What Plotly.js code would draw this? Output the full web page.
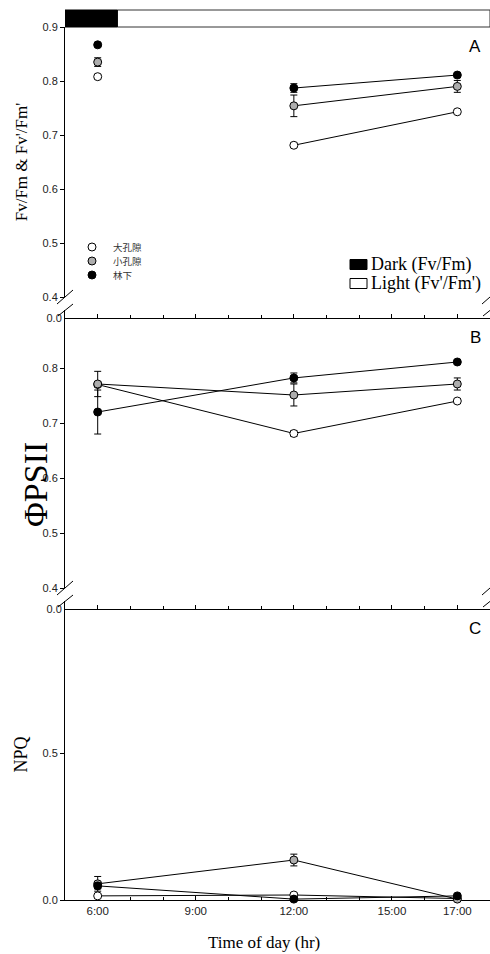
<!DOCTYPE html>
<html>
<head>
<meta charset="utf-8">
<script src="https://cdn.plot.ly/plotly-3.0.1.min.js"></script>
<style>
  html, body { margin: 0; padding: 0; background: #fff; }
  #chart { width: 490px; height: 954px; }
</style>
</head>
<body>
<div id="chart"></div>
<script>
// ---- data ----
const groups = ['大孔隙', '小孔隙', '林下'];
const darkHours = [6];
const lightHours = [12, 17];
const allHours = [6, 12, 17];
const timeTickVals = [6, 9, 12, 15, 17];
const timeTickText = ['6:00', '9:00', '12:00', '15:00', '17:00'];
const hourTicks = [5, 6, 7, 8, 9, 10, 11, 12, 13, 14, 15, 16, 17, 18];
const sunrise = 6.6;

// Fv/Fm (pre-dawn, dark adapted)
const fvfmLarge = [0.808];
const fvfmSmall = [0.835];
const fvfmUnder = [0.867];
const fvfmLargeErr = [0.004];
const fvfmSmallErr = [0.008];
const fvfmUnderErr = [0.003];

// Fv'/Fm' (light adapted)
const fvfmpLarge = [0.681, 0.743];
const fvfmpSmall = [0.754, 0.790];
const fvfmpUnder = [0.787, 0.811];
const fvfmpLargeErr = [0.004, 0.003];
const fvfmpSmallErr = [0.020, 0.011];
const fvfmpUnderErr = [0.008, 0.003];

// ΦPSII
const phiLarge = [0.770, 0.681, 0.740];
const phiSmall = [0.771, 0.751, 0.771];
const phiUnder = [0.720, 0.782, 0.811];
const phiLargeErr = [0.004, 0.005, 0.003];
const phiSmallErr = [0.023, 0.020, 0.011];
const phiUnderErr = [0.040, 0.009, 0.003];

// NPQ
const npqLarge = [0.014, 0.017, 0.005];
const npqSmall = [0.055, 0.136, 0.003];
const npqUnder = [0.048, 0.003, 0.014];
const npqLargeErr = [0.004, 0.006, 0.002];
const npqSmallErr = [0.025, 0.020, 0.002];
const npqUnderErr = [0.010, 0.002, 0.003];

// ---- styling / geometry ----
const W = 490, H = 954, ML = 65, MR = 0, MT = 10, MB = 54;
const PW = W - ML - MR, PH = H - MT - MB;
const px = x => (x - ML) / PW;
const py = y => (H - MB - y) / PH;

const FILL = {'大孔隙': '#ffffff', '小孔隙': '#adadad', '林下': '#000000'};
const SANS = 'Liberation Sans, Arial, sans-serif';
const SERIF = 'Liberation Serif, Times New Roman, serif';
const CJK = 'Noto Sans CJK SC, sans-serif';

function series(xa, ya, x, y, err, name, mode) {
  return {
    type: 'scatter', mode: mode, name: name, x: x, y: y,
    xaxis: xa, yaxis: ya, showlegend: false, cliponaxis: false,
    line: {color: '#000', width: 1},
    marker: {size: 8, color: FILL[name], line: {color: '#000', width: 1}},
    error_y: {type: 'data', array: err, visible: true, color: '#000', thickness: 1, width: 3.5}
  };
}

// empty trace that registers the short "0.0" axis segment below each break
function baseSegment(xa, ya) {
  return {type: 'scatter', mode: 'markers', x: [], y: [], xaxis: xa, yaxis: ya,
          showlegend: false, hoverinfo: 'skip'};
}

const traces = [
  baseSegment('x', 'y2'),
  baseSegment('x2', 'y4'),
  // panel A
  series('x', 'y', darkHours, fvfmLarge, fvfmLargeErr, groups[0], 'markers'),
  series('x', 'y', lightHours, fvfmpLarge, fvfmpLargeErr, groups[0], 'lines+markers'),
  series('x', 'y', darkHours, fvfmSmall, fvfmSmallErr, groups[1], 'markers'),
  series('x', 'y', lightHours, fvfmpSmall, fvfmpSmallErr, groups[1], 'lines+markers'),
  series('x', 'y', darkHours, fvfmUnder, fvfmUnderErr, groups[2], 'markers'),
  series('x', 'y', lightHours, fvfmpUnder, fvfmpUnderErr, groups[2], 'lines+markers'),
  // panel B
  series('x2', 'y3', allHours, phiLarge, phiLargeErr, groups[0], 'lines+markers'),
  series('x2', 'y3', allHours, phiSmall, phiSmallErr, groups[1], 'lines+markers'),
  series('x2', 'y3', allHours, phiUnder, phiUnderErr, groups[2], 'lines+markers'),
  // panel C
  series('x3', 'y5', allHours, npqLarge, npqLargeErr, groups[0], 'lines+markers'),
  series('x3', 'y5', allHours, npqSmall, npqSmallErr, groups[1], 'lines+markers'),
  series('x3', 'y5', allHours, npqUnder, npqUnderErr, groups[2], 'lines+markers')
];

const tickFont = {family: SANS, size: 11, color: '#222'};

function xAxis(anchor, labels) {
  return {
    anchor: anchor, domain: [0, 1], range: [5, 18],
    showline: true, linecolor: '#000', linewidth: 1, mirror: false,
    showgrid: false, zeroline: false, layer: 'below traces',
    tickmode: 'array', tickvals: timeTickVals, ticktext: timeTickText,
    ticks: 'inside', ticklen: 4, tickcolor: '#000', tickwidth: 1,
    showticklabels: labels, tickfont: {family: SANS, size: 11.5, color: '#222'},
    minor: {tickmode: 'array', tickvals: hourTicks, ticks: 'inside', ticklen: 3, tickcolor: '#000', tickwidth: 1, showgrid: false}
  };
}

function yAxis(anchor, domain, range, dtick, title) {
  const ax = {
    anchor: anchor, domain: domain, range: range,
    showline: true, linecolor: '#000', linewidth: 1,
    showgrid: false, zeroline: false,
    tick0: 0, dtick: dtick, tickformat: '.1f',
    ticks: 'outside', ticklen: 4, tickcolor: '#000', tickwidth: 1,
    tickfont: tickFont
  };
  if (title) ax.title = title;
  return ax;
}

function stubAxis(anchor, domain) {
  return {
    anchor: anchor, domain: domain, range: [0, 1],
    showline: true, linecolor: '#000', linewidth: 1,
    showgrid: false, zeroline: false,
    tickmode: 'array', tickvals: [0], ticktext: ['0.0'],
    ticks: 'outside', ticklen: 0, tickfont: tickFont
  };
}

// axis-break marks ("//") at the left and right ends of an axis
function breakMarks(axisY) {
  const out = [];
  [0, 1].forEach(xa => {
    [[-8, 14, 8, 28], [-7, 2, 8, 14]].forEach(s => {
      out.push({
        type: 'line', xref: 'paper', yref: 'paper',
        xsizemode: 'pixel', ysizemode: 'pixel', xanchor: xa, yanchor: py(axisY),
        x0: s[0], y0: s[1], x1: s[2], y1: s[3],
        line: {color: '#000', width: 1}
      });
    });
  });
  return out;
}

const shapes = [
  // dark / light period bar above panel A
  {type: 'rect', xref: 'x', yref: 'paper', x0: sunrise, x1: 18, y0: py(27), y1: py(10),
   fillcolor: '#fff', line: {color: '#333', width: 1}},
  {type: 'rect', xref: 'x', yref: 'paper', x0: 5, x1: sunrise, y0: py(27), y1: py(10),
   fillcolor: '#000', line: {color: '#000', width: 1}},
  ...breakMarks(318),
  ...breakMarks(609)
];

// group key (circles + names)
const keyY = [247, 261, 275];
const annotations = [];
groups.forEach((g, i) => {
  shapes.push({
    type: 'circle', xref: 'paper', yref: 'paper',
    xsizemode: 'pixel', ysizemode: 'pixel', xanchor: px(92), yanchor: py(keyY[i]),
    x0: -4, x1: 4, y0: -4, y1: 4,
    fillcolor: FILL[g], line: {color: '#000', width: 1}
  });
  annotations.push({
    xref: 'paper', yref: 'paper', x: px(112), y: py(keyY[i]),
    xanchor: 'left', yanchor: 'middle', showarrow: false, borderpad: 0,
    text: g, font: {family: CJK, size: 9.5, color: '#333'}
  });
});

// dark / light key
const periodKey = [
  {label: 'Dark (Fv/Fm)', fill: '#000', y: 264.5},
  {label: "Light (Fv'/Fm')", fill: '#fff', y: 283.5}
];
periodKey.forEach(k => {
  shapes.push({
    type: 'rect', xref: 'paper', yref: 'paper',
    xsizemode: 'pixel', ysizemode: 'pixel', xanchor: px(358.5), yanchor: py(k.y),
    x0: -8.5, x1: 8.5, y0: -5, y1: 5,
    fillcolor: k.fill, line: {color: '#000', width: 1}
  });
  annotations.push({
    xref: 'paper', yref: 'paper', x: px(370), y: py(k.y),
    xanchor: 'left', yanchor: 'middle', showarrow: false, borderpad: 0,
    text: k.label, font: {family: SERIF, size: 18, color: '#000'}
  });
});

// panel letters
[['A', 47], ['B', 337], ['C', 628]].forEach(p => {
  annotations.push({
    xref: 'paper', yref: 'paper', x: px(475), y: py(p[1]),
    xanchor: 'center', yanchor: 'middle', showarrow: false,
    text: p[0], font: {family: SANS, size: 17, color: '#000'}
  });
});

// ΦPSII label and x title
annotations.push({
  xref: 'paper', yref: 'paper', x: px(35), y: py(485),
  xanchor: 'center', yanchor: 'middle', showarrow: false, textangle: -90,
  text: 'ΦPSII', font: {family: SERIF, size: 34, color: '#000'}
});
annotations.push({
  xref: 'paper', yref: 'paper', x: px(264), y: py(943),
  xanchor: 'center', yanchor: 'middle', showarrow: false,
  text: 'Time of day (hr)', font: {family: SERIF, size: 17, color: '#000'}
});

const layout = {
  width: W, height: H,
  margin: {l: ML, r: MR, t: MT, b: MB, pad: 0},
  paper_bgcolor: '#fff', plot_bgcolor: 'rgba(0,0,0,0)',
  showlegend: false,
  xaxis: xAxis('y2', false),
  xaxis2: xAxis('y4', false),
  xaxis3: xAxis('y5', true),
  yaxis: yAxis('x', [py(297), py(27)], [0.4, 0.9], 0.1,
    {text: "Fv/Fm & Fv'/Fm'", font: {family: SERIF, size: 17, color: '#000'}, standoff: 10}),
  yaxis2: stubAxis('x', [py(318), py(310)]),
  yaxis3: yAxis('x2', [py(588), py(318)], [0.4, 0.891], 0.1, null),
  yaxis4: stubAxis('x2', [py(609), py(601)]),
  yaxis5: yAxis('x3', [0, py(609)], [0, 0.99], 0.5,
    {text: 'NPQ', font: {family: SERIF, size: 18, color: '#000'}, standoff: 10}),
  shapes: shapes,
  annotations: annotations
};

Plotly.newPlot('chart', traces, layout, {staticPlot: true, displayModeBar: false});
</script>
</body>
</html>
